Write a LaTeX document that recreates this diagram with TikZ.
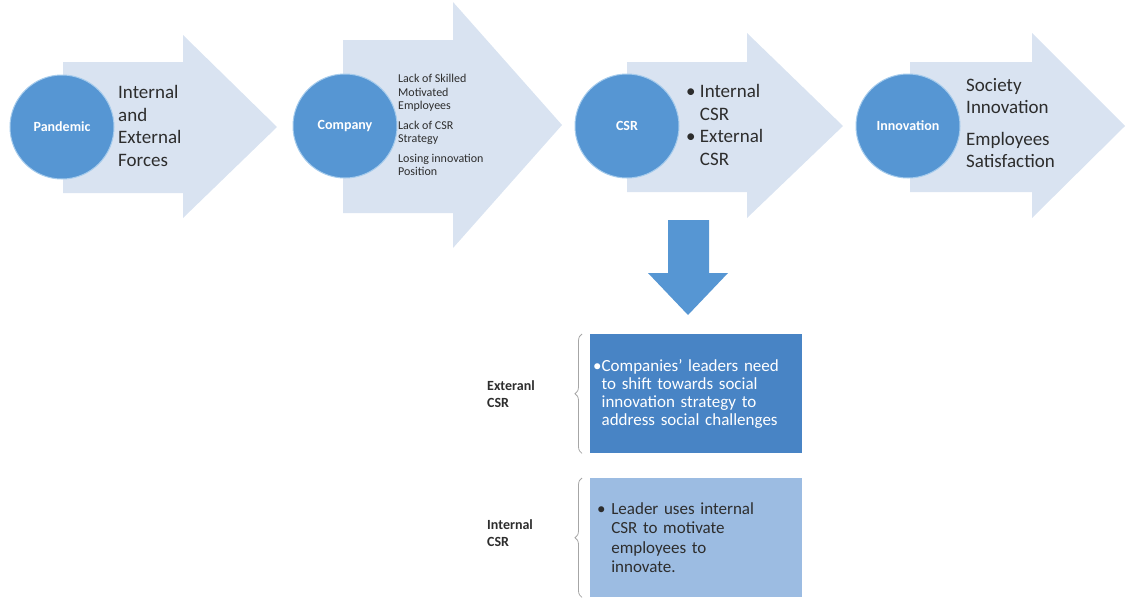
\documentclass[tikz,border=0pt]{standalone}
\usepackage{fontspec}
\setmainfont{Carlito}
\usetikzlibrary{calc,positioning,decorations.pathreplacing}
\definecolor{arrowfill}{RGB}{217,227,241}
\definecolor{circfill}{RGB}{86,150,211}
\definecolor{circline}{RGB}{165,203,236}
\definecolor{darkbox}{RGB}{72,132,197}
\definecolor{lightbox}{RGB}{156,188,226}
\definecolor{txtgray}{RGB}{45,45,45}
\tikzset{
  bigarrow/.style={fill=arrowfill,draw=none},
  circ/.style={circle,fill=circfill,draw=circline,line width=1pt,
    minimum size=104pt,inner sep=0pt,text=white,
    font=\bfseries\fontsize{14}{16}\selectfont},
  arrowtext/.style={anchor=west,align=left,inner sep=0pt,text=txtgray},
  bigtext/.style={arrowtext,font=\fontsize{19}{22.5}\selectfont},
  boxnode/.style={anchor=north west,text width=212pt,minimum height=119pt,
    align=left,inner sep=0pt},
  sidelabel/.style={anchor=west,align=left,inner sep=0pt,text=txtgray,
    font=\bfseries\fontsize{14}{17}\selectfont},
  bracket/.style={draw=gray!70,line width=0.8pt,
    decorate,decoration={brace,amplitude=7pt}}
}
\begin{document}
\begin{tikzpicture}[x=1pt,y=-1pt]
  \useasboundingbox (0,0) rectangle (1127,600);
  % big arrows
  \fill[bigarrow] (63,62) -- (183,62) -- (183,35) -- (277,127) -- (183,218)
    -- (183,193) -- (63,193) -- cycle;
  \fill[bigarrow] (343,40) -- (453,40) -- (453,2) -- (562,125) -- (453,248)
    -- (453,213) -- (343,213) -- cycle;
  \fill[bigarrow] (627,62) -- (747,62) -- (747,33) -- (843,126) -- (747,218)
    -- (747,192) -- (627,192) -- cycle;
  \fill[bigarrow] (910,62) -- (1032,62) -- (1032,33) -- (1125,126) -- (1032,218)
    -- (1032,192) -- (910,192) -- cycle;
  % circles
  \node[circ] (pandemic) at (62,127) {Pandemic};
  \node[circ] (company) at (345,126) {Company};
  \node[circ] (csr) at (627,126) {CSR};
  \node[circ] (innov) at (908,126) {Innovation};
  % texts in the arrows
  \node[bigtext] (forces) at (118,126) {Internal\\and\\External\\Forces};
  \node[arrowtext,font=\fontsize{12}{13.5}\selectfont] (lacks) at (398,125)
    {Lack of Skilled\\Motivated\\Employees\\[6pt]Lack of CSR\\Strategy\\[6pt]%
     Losing innovation\\Position};
  \node[bigtext] (csrtypes) at (686,125)
    {\textbullet\ Internal\\\hphantom{\textbullet\ }CSR\\%
     \textbullet\ External\\\hphantom{\textbullet\ }CSR};
  \node[bigtext] (results) at (966,123)
    {Society\\Innovation\\[9pt]Employees\\Satisfaction};
  % down arrow
  \fill[circfill] (668,220) -- (709,220) -- (709,273) -- (728,273) -- (688,315)
    -- (648,273) -- (668,273) -- cycle;
  % boxes
  \node[boxnode,fill=darkbox,text=white,font=\fontsize{17}{18}\selectfont]
    (extbox) at (590,334)
    {\hspace*{3pt}\textbullet Companies' leaders need\\
     \hspace*{3pt}\hphantom{\textbullet}to shift towards social\\
     \hspace*{3pt}\hphantom{\textbullet}innovation strategy to\\
     \hspace*{3pt}\hphantom{\textbullet}address social challenges};
  \node[boxnode,fill=lightbox,text=txtgray,font=\fontsize{17}{19.5}\selectfont]
    (intbox) at (590,478)
    {\hspace*{7pt}\textbullet\ Leader uses internal\\
     \hspace*{7pt}\hphantom{\textbullet\ }CSR to motivate\\
     \hspace*{7pt}\hphantom{\textbullet\ }employees to\\
     \hspace*{7pt}\hphantom{\textbullet\ }innovate.};
  % braces and labels
  \draw[bracket] ([xshift=-8pt]extbox.south west) -- ([xshift=-8pt]extbox.north west);
  \draw[bracket] ([xshift=-8pt]intbox.south west) -- ([xshift=-8pt]intbox.north west);
  \node[sidelabel] (extlabel) at (487,394) {Exteranl\\CSR};
  \node[sidelabel] (intlabel) at (487,533) {Internal\\CSR};
\end{tikzpicture}
\end{document}
